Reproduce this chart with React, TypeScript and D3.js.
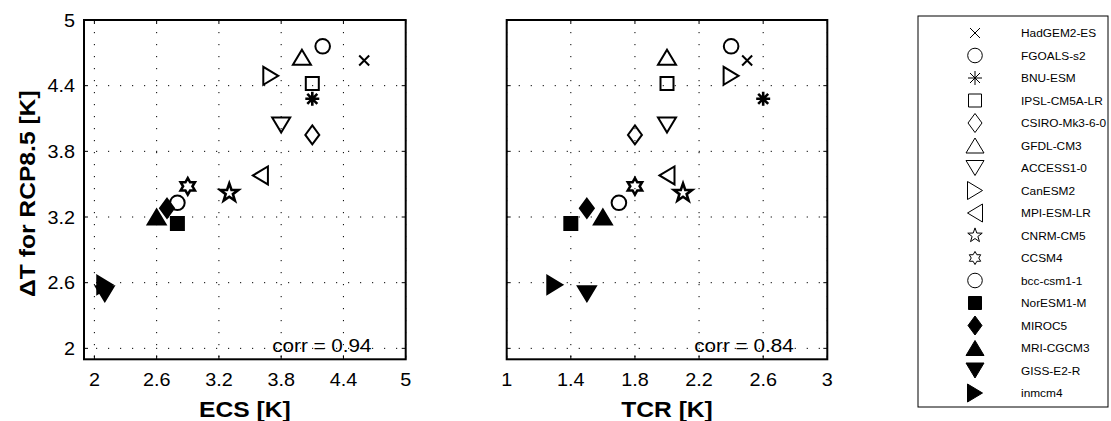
import React from "react";
import * as d3 from "d3";

const models = ["HadGEM2-ES","FGOALS-s2","BNU-ESM","IPSL-CM5A-LR","CSIRO-Mk3-6-0","GFDL-CM3","ACCESS1-0","CanESM2","MPI-ESM-LR","CNRM-CM5","CCSM4","bcc-csm1-1","NorESM1-M","MIROC5","MRI-CGCM3","GISS-E2-R","inmcm4"];
const markerTypes = ["x","o","*","s","d","^","v",">","<","p","h","o","s","d","^","v",">"];
const filledFlags = [false,false,false,false,false,false,false,false,false,false,false,false,true,true,true,true,true];
const ecs = [4.6,4.2,4.1,4.1,4.1,4.0,3.8,3.7,3.6,3.3,2.9,2.8,2.8,2.7,2.6,2.1,2.1];
const tcr = [2.5,2.4,2.6,2.0,1.8,2.0,2.0,2.4,2.0,2.1,1.8,1.7,1.4,1.5,1.6,1.5,1.3];
const dT = [4.63,4.76,4.28,4.42,3.95,4.66,4.04,4.49,3.58,3.42,3.48,3.33,3.14,3.28,3.2,2.5,2.58];
const yTicks = [2,2.6,3.2,3.8,4.4,5];
const ecsTicks = [2,2.6,3.2,3.8,4.4,5];
const tcrTicks = [1,1.4,1.8,2.2,2.6,3];
const corrLabels = ["corr = 0.94","corr = 0.84"];

const FONT = "'Liberation Sans', Arial, Helvetica, sans-serif";

function star(R: number, r: number, n: number) {
  const pts: string[] = [];
  for (let i = 0; i < 2 * n; i++) {
    const a = -Math.PI / 2 + (i * Math.PI) / n;
    const rad = i % 2 === 0 ? R : r;
    pts.push(`${(rad * Math.cos(a)).toFixed(2)},${(rad * Math.sin(a)).toFixed(2)}`);
  }
  return "M" + pts.join("L") + "Z";
}

function markerPath(t: string, starScale = 1): string {
  switch (t) {
    case "o": {
      const p = d3.path();
      p.arc(0, 0, 7.3, 0, Math.PI * 2);
      p.closePath();
      return p.toString();
    }
    case "s": return "M-6.5,-6.5L6.5,-6.5L6.5,6.5L-6.5,6.5Z";
    case "d": return "M0,-9.5L7,0L0,9.5L-7,0Z";
    case "^": return "M0,-7.5L9,7.5L-9,7.5Z";
    case "v": return "M0,7.5L9,-7.5L-9,-7.5Z";
    case ">": return "M7.5,0L-7.5,-9L-7.5,9Z";
    case "<": return "M-7.5,0L7.5,-9L7.5,9Z";
    case "p": return star(9.5 * starScale, 3.8 * starScale, 5);
    case "h": return star(8.2 * starScale, 4.7 * starScale, 6);
    case "x": return "M-5,-5L5,5M5,-5L-5,5";
    case "*": return "M0,-7L0,7M-7,0L7,0M-5,-5L5,5M5,-5L-5,5";
    default: return "";
  }
}

function T({ x, y, sx = 1, anchor = "start", size, weight = "normal", children }: any) {
  return (
    <text transform={`translate(${x},${y}) scale(${sx},1)`} textAnchor={anchor} fontSize={size} fontWeight={weight} fontFamily={FONT} fill="#000">{children}</text>
  );
}

const yScale = d3.scaleLinear().domain([1.9, 5]).range([359.3, 20]);

function Panel({ x0, x1, domain, ticks, xs, label, corr, showY }: any) {
  const xScale = d3.scaleLinear().domain(domain).range([x0, x1]);
  const [yb, yt] = yScale.range();
  return (
    <g>
      {ticks.map((t: number, i: number) => (
        <line key={"gx" + i} x1={xScale(t)} x2={xScale(t)} y1={yt} y2={yb} stroke="#000" strokeWidth={1} strokeDasharray="1.2 10.8" />
      ))}
      {yTicks.map((t, i) => (
        <line key={"gy" + i} x1={x0} x2={x1} y1={yScale(t)} y2={yScale(t)} stroke="#000" strokeWidth={1} strokeDasharray="1.2 10.8" />
      ))}
      {ticks.map((t: number, i: number) => (
        <g key={"tx" + i}>
          <line x1={xScale(t)} x2={xScale(t)} y1={yb} y2={yb - 4} stroke="#000" strokeWidth={1} />
          <line x1={xScale(t)} x2={xScale(t)} y1={yt} y2={yt + 4} stroke="#000" strokeWidth={1} />
          <T x={xScale(t)} y={yb + 27} anchor="middle" size={18} sx={1.1}>{String(t)}</T>
        </g>
      ))}
      {yTicks.map((t, i) => (
        <g key={"ty" + i}>
          <line x1={x0} x2={x0 + 4} y1={yScale(t)} y2={yScale(t)} stroke="#000" strokeWidth={1} />
          <line x1={x1} x2={x1 - 4} y1={yScale(t)} y2={yScale(t)} stroke="#000" strokeWidth={1} />
          {showY && (
            <T x={x0 - 9} y={yScale(t) + 6.5} anchor="end" size={18} sx={1.1}>{String(t)}</T>
          )}
        </g>
      ))}
      <rect x={x0} y={yt} width={x1 - x0} height={yb - yt} fill="none" stroke="#000" strokeWidth={2} />
      <T x={(x0 + x1) / 2} y={417} anchor="middle" size={22} weight="bold" sx={1.12}>{label}</T>
      <T x={xScale(domain[0]) + (x1 - x0) * 0.585} y={352} size={18} sx={1.15}>{corr}</T>
      {models.map((m, i) => {
        const f = filledFlags[i];
        const t = markerTypes[i];
        const sw = t === "p" || t === "h" || t === "*" ? 2.6 : 2;
        return (
          <path key={"m" + i} d={markerPath(t)}
            transform={`translate(${xScale(xs[i])},${yScale(dT[i])})`}
            fill={f ? "#000" : "none"} stroke="#000" strokeWidth={sw} strokeLinejoin="miter" />
        );
      })}
    </g>
  );
}

export default function App() {
  const lx0 = 918, ly0 = 16, lx1 = 1108, ly1 = 407;
  const rowY = d3.scaleLinear().domain([0, models.length - 1]).range([33, 393]);
  return (
    <svg width={1111} height={421} style={{ position: "absolute", left: 0, top: 0, background: "#fff" }}>
      <rect x={0} y={0} width={1111} height={421} fill="#fff" />
      <Panel x0={84} x1={405.7} domain={[1.9, 5]} ticks={ecsTicks} xs={ecs} label="ECS [K]" corr={corrLabels[0]} showY={true} />
      <Panel x0={506.7} x1={827.3} domain={[1, 3]} ticks={tcrTicks} xs={tcr} label="TCR [K]" corr={corrLabels[1]} showY={false} />
      <text transform={`translate(35,${(20 + 359.3) / 2 + 4}) rotate(-90) scale(1.12,1)`} textAnchor="middle" fontSize={22} fontWeight="bold" fontFamily={FONT} fill="#000">ΔT for RCP8.5 [K]</text>
      <rect x={lx0} y={ly0} width={lx1 - lx0} height={ly1 - ly0} fill="#fff" stroke="#000" strokeWidth={1} />
      {models.map((m, i) => (
        <g key={"l" + i} transform={`translate(0,${rowY(i)})`}>
          <path d={markerPath(markerTypes[i], 0.8)} transform="translate(975,0)" fill={filledFlags[i] ? "#000" : "none"} stroke="#000" strokeWidth={1} />
          <T x={1021} y={4} size={11} sx={1.08}>{m}</T>
        </g>
      ))}
    </svg>
  );
}
